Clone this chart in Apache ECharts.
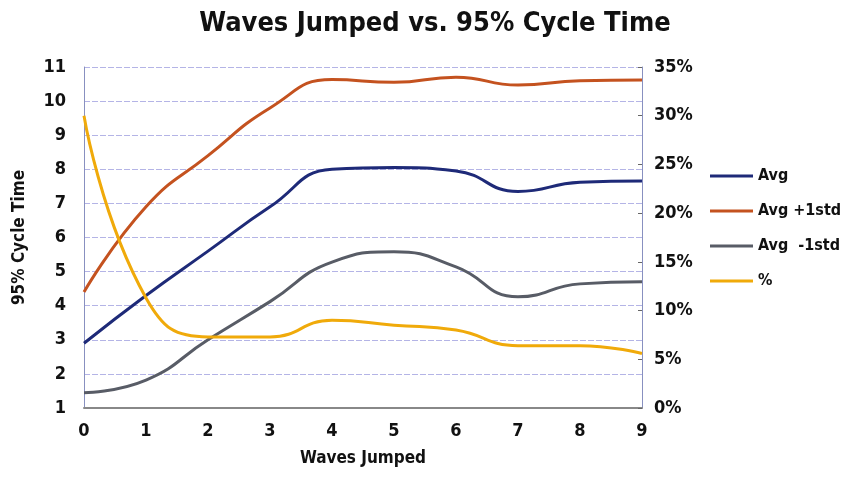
<!DOCTYPE html>
<html>
<head>
<meta charset="utf-8">
<script src="https://cdn.jsdelivr.net/npm/echarts@6/dist/echarts.min.js"></script>
<style>html,body{margin:0;padding:0;background:#fff;}#chart{width:841px;height:480px;}</style>
</head>
<body>
<div id="chart"></div>
<script>
var wavesJumped = ['0','1','2','3','4','5','6','7','8','9'];
var avg        = [2.9, 4.3, 5.6, 6.9, 8.0, 8.05, 7.95, 7.35, 7.62, 7.66];
var avgPlus    = [4.4, 6.9, 8.4, 9.8, 10.63, 10.55, 10.7, 10.47, 10.6, 10.62];
var avgMinus   = [1.45, 1.82, 3.0, 4.12, 5.28, 5.58, 5.14, 4.26, 4.64, 4.7];
var pct        = [0.30, 0.113, 0.073, 0.073, 0.09, 0.085, 0.08, 0.064, 0.064, 0.056];
var leftTicks  = {min: 1, max: 11, step: 1};
var rightTicks = {min: 0, max: 0.35, step: 0.05};

var font = '"DejaVu Sans Condensed", "Liberation Sans Narrow", sans-serif';
var chart = echarts.init(document.getElementById('chart'), null, {renderer: 'canvas'});
function line(name, data, color, yIdx) {
  return {
    name: name, type: 'line', data: data, yAxisIndex: yIdx,
    smooth: 0.5, symbol: 'none',
    lineStyle: {color: color, width: 3}, itemStyle: {color: color}
  };
}
chart.setOption({
  animation: false,
  backgroundColor: '#fff',
  title: {
    text: 'Waves Jumped vs. 95% Cycle Time', left: 430, top: 5, textAlign: 'center',
    textStyle: {fontFamily: font, fontWeight: 'bold', fontSize: 27, color: '#111'}
  },
  grid: {left: 84, right: 199, top: 67, bottom: 72},
  legend: {
    orient: 'vertical', left: 705, top: 163, itemGap: 19,
    icon: 'rect', itemWidth: 43, itemHeight: 3,
    textStyle: {fontFamily: font, fontWeight: 'bold', fontSize: 16, color: '#111'},
    data: ['Avg', 'Avg +1std', 'Avg  -1std', '%']
  },
  xAxis: {
    type: 'category', data: wavesJumped, boundaryGap: false,
    name: 'Waves Jumped', nameLocation: 'middle', nameGap: 42,
    nameTextStyle: {fontFamily: font, fontWeight: 'bold', fontSize: 17, color: '#111'},
    axisLine: {lineStyle: {color: '#888', width: 2}},
    axisTick: {show: false},
    axisLabel: {fontFamily: font, fontWeight: 'bold', fontSize: 18, color: '#111', margin: 14}
  },
  yAxis: [{
    type: 'value', min: leftTicks.min, max: leftTicks.max, interval: leftTicks.step,
    name: '95% Cycle Time', nameLocation: 'middle', nameGap: 56,
    nameTextStyle: {fontFamily: font, fontWeight: 'bold', fontSize: 17, color: '#111'},
    axisLine: {show: true, lineStyle: {color: '#8890c0', width: 1}},
    axisTick: {show: false},
    axisLabel: {fontFamily: font, fontWeight: 'bold', fontSize: 18, color: '#111', margin: 18},
    splitLine: {lineStyle: {color: '#b4b4e6', width: 1, type: [6, 2]}}
  }, {
    type: 'value', min: rightTicks.min, max: rightTicks.max, interval: rightTicks.step,
    position: 'right',
    axisLine: {show: true, lineStyle: {color: '#8890c0', width: 1}},
    axisTick: {show: true, inside: true, length: 4, lineStyle: {color: '#666'}},
    axisLabel: {fontFamily: font, fontWeight: 'bold', fontSize: 18, color: '#111', margin: 12,
      formatter: function (v) { return Math.round(v * 100) + '%'; }},
    splitLine: {show: false}
  }],
  series: [
    line('Avg', avg, '#1e2a78', 0),
    line('Avg +1std', avgPlus, '#c4521f', 0),
    line('Avg  -1std', avgMinus, '#585c66', 0),
    line('%', pct, '#f0aa0a', 1)
  ]
});
</script>
</body>
</html>
